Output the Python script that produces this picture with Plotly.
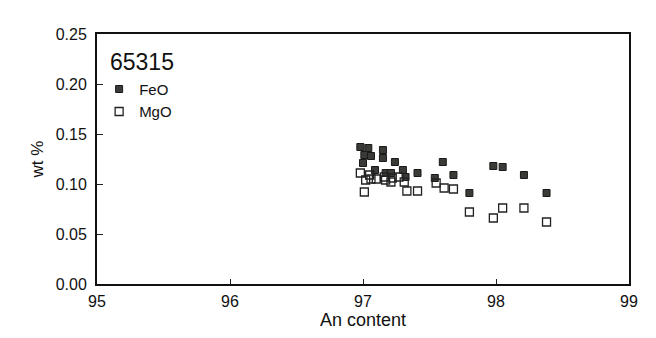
import plotly.graph_objects as go

feo_x = [96.98, 97.04, 97.15, 97.01, 97.06, 97.15, 97.00, 97.24, 97.09, 97.17, 97.21,
         97.30, 97.32, 97.41, 97.60, 97.54, 97.68, 97.98, 98.05, 98.21, 97.80, 98.38]
feo_y = [0.137, 0.136, 0.134, 0.129, 0.128, 0.126, 0.121, 0.122, 0.114, 0.111, 0.111,
         0.114, 0.107, 0.111, 0.122, 0.106, 0.109, 0.118, 0.117, 0.109, 0.091, 0.091]

mgo_x = [96.98, 97.05, 97.02, 97.06, 97.10, 97.16, 97.17, 97.22, 97.21, 97.27, 97.31,
         97.01, 97.33, 97.41, 97.55, 97.61, 97.68, 97.80, 97.98, 98.05, 98.21, 98.38]
mgo_y = [0.111, 0.109, 0.104, 0.105, 0.105, 0.107, 0.104, 0.106, 0.102, 0.107, 0.102,
         0.092, 0.093, 0.093, 0.101, 0.096, 0.095, 0.072, 0.066, 0.076, 0.076, 0.062]

x_ticks = [95, 96, 97, 98, 99]
y_ticks = [0.00, 0.05, 0.10, 0.15, 0.20, 0.25]
sample_label = "65315"

font = "Liberation Sans, Arial, sans-serif"

fig = go.Figure()
fig.add_trace(go.Scatter(
    x=feo_x, y=feo_y, mode="markers", name="FeO",
    marker=dict(symbol="square", size=7, color="#3a3a36",
                line=dict(color="#1a1a1a", width=1)),
))
fig.add_trace(go.Scatter(
    x=mgo_x, y=mgo_y, mode="markers", name="MgO",
    marker=dict(symbol="square-open", size=8, color="#222222",
                line=dict(width=1.3)),
))

fig.update_layout(
    width=656, height=338,
    margin=dict(l=97, r=27, t=34, b=54),
    paper_bgcolor="white", plot_bgcolor="white",
    font=dict(family=font, color="#111111", size=14),
    showlegend=True,
    legend=dict(x=0.004, y=0.845, xanchor="left", yanchor="top",
                font=dict(size=15, family=font), bgcolor="rgba(0,0,0,0)",
                itemsizing="trace", tracegroupgap=0),
    annotations=[dict(text=sample_label, xref="paper", yref="paper",
                      x=0.02, y=0.95, xanchor="left", yanchor="top",
                      showarrow=False, font=dict(size=23, family=font))],
)
fig.update_xaxes(
    range=[95, 99], tickvals=x_ticks, ticktext=[str(v) for v in x_ticks],
    ticks="inside", ticklen=5, tickwidth=1, tickcolor="#222",
    showline=True, linecolor="#111", linewidth=2, mirror=True,
    showgrid=False, zeroline=False,
    title=dict(text="An content", font=dict(size=18, family=font), standoff=4),
    tickfont=dict(size=16), ticklabelstandoff=2,
)
fig.update_yaxes(
    range=[0, 0.25], tickvals=y_ticks, ticktext=[f"{v:.2f}" for v in y_ticks],
    ticks="inside", ticklen=6, tickwidth=1, tickcolor="#222",
    showline=True, linecolor="#111", linewidth=2, mirror=True,
    showgrid=False, zeroline=False,
    title=dict(text="wt %", font=dict(size=17, family=font), standoff=8),
    tickfont=dict(size=16), ticklabelstandoff=5,
)

fig.write_html("out.html")
